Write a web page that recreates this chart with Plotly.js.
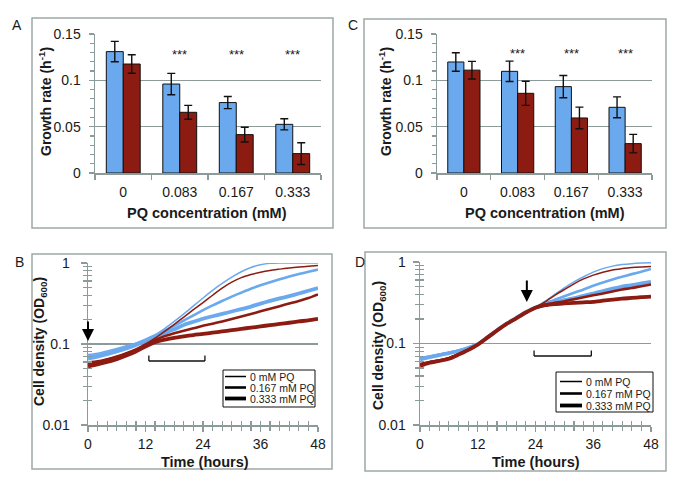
<!DOCTYPE html>
<html><head><meta charset="utf-8">
<script src="https://cdn.plot.ly/plotly-3.0.1.min.js"></script>
<style>html,body{margin:0;padding:0;background:#fff}</style>
</head><body><div id="chart" style="width:685px;height:489px"></div>
<script>
// ---------- DATA ----------
const categories = ['0', '0.083', '0.167', '0.333'];
const A_blue = [0.131, 0.096, 0.076, 0.0525];
const A_blueErr = [0.011, 0.0115, 0.0065, 0.006];
const A_red = [0.1176, 0.0655, 0.0414, 0.0209];
const A_redErr = [0.010, 0.0075, 0.008, 0.0117];
const C_blue = [0.1198, 0.1097, 0.0932, 0.0709];
const C_blueErr = [0.010, 0.011, 0.012, 0.0113];
const C_red = [0.111, 0.086, 0.0594, 0.0317];
const C_redErr = [0.0095, 0.013, 0.0117, 0.010];
const starCats = ['0.083', '0.167', '0.333'];
const starLabel = '***';
const A_starLevel = 0.128;
const C_starLevel = 0.129;

const hours = [0,2,4,6,8,10,12,14,16,18,20,22,24,26,28,30,32,34,36,38,40,42,44,46,48];
// Panel B
const B_blue0   = [0.074,0.077,0.082,0.088,0.095,0.103,0.115,0.13,0.155,0.19,0.235,0.295,0.37,0.46,0.56,0.67,0.78,0.88,0.95,0.99,1.0,1.0,1.0,1.0,1.0];
const B_blue167 = [0.07,0.073,0.078,0.084,0.091,0.1,0.112,0.127,0.146,0.168,0.195,0.225,0.262,0.3,0.34,0.385,0.43,0.48,0.53,0.58,0.63,0.68,0.73,0.78,0.83];
const B_blue333 = [0.066,0.07,0.075,0.081,0.088,0.097,0.108,0.122,0.137,0.152,0.172,0.188,0.205,0.22,0.235,0.252,0.27,0.29,0.315,0.34,0.365,0.39,0.42,0.455,0.49];
const B_red0    = [0.06,0.062,0.066,0.071,0.078,0.087,0.1,0.118,0.143,0.175,0.215,0.265,0.325,0.4,0.49,0.58,0.66,0.72,0.77,0.81,0.84,0.87,0.89,0.91,0.93];
const B_red167  = [0.057,0.06,0.064,0.069,0.076,0.085,0.097,0.112,0.125,0.136,0.146,0.156,0.168,0.178,0.19,0.203,0.218,0.235,0.253,0.272,0.293,0.316,0.34,0.37,0.41];
const B_red333  = [0.053,0.056,0.06,0.065,0.072,0.081,0.093,0.105,0.113,0.119,0.124,0.129,0.133,0.138,0.143,0.148,0.154,0.159,0.165,0.171,0.177,0.183,0.19,0.196,0.205];
// Panel D
const D_blue0   = [0.067,0.07,0.074,0.078,0.083,0.09,0.1,0.121,0.147,0.177,0.208,0.244,0.28,0.33,0.4,0.48,0.57,0.66,0.75,0.83,0.89,0.93,0.955,0.97,0.98];
const D_blue167 = [0.066,0.069,0.073,0.077,0.082,0.089,0.099,0.12,0.146,0.176,0.207,0.243,0.278,0.31,0.345,0.38,0.42,0.46,0.51,0.56,0.61,0.66,0.71,0.76,0.82];
const D_blue333 = [0.064,0.068,0.072,0.076,0.081,0.088,0.098,0.119,0.145,0.175,0.206,0.242,0.276,0.3,0.32,0.34,0.36,0.385,0.41,0.44,0.47,0.5,0.52,0.545,0.57];
const D_red0    = [0.057,0.06,0.063,0.067,0.075,0.085,0.099,0.12,0.146,0.176,0.206,0.243,0.279,0.325,0.39,0.46,0.54,0.62,0.69,0.75,0.8,0.83,0.855,0.87,0.88];
const D_red167  = [0.055,0.059,0.062,0.066,0.074,0.084,0.098,0.119,0.145,0.175,0.205,0.241,0.277,0.3,0.315,0.33,0.35,0.37,0.39,0.41,0.435,0.46,0.48,0.505,0.53];
const D_red333  = [0.053,0.058,0.061,0.065,0.073,0.083,0.097,0.118,0.144,0.174,0.204,0.24,0.275,0.295,0.305,0.31,0.315,0.32,0.325,0.335,0.345,0.355,0.362,0.37,0.375];

const legendLabels = ['0 mM PQ', '0.167 mM PQ', '0.333 mM PQ'];
const B_arrowHour = 0, D_arrowHour = 22.2;
const B_bracket = [12.7, 24.4], D_bracket = [23.7, 35.6];

// ---------- STYLE ----------
const W = 685, H = 489;
const px = v => v / W, py = v => 1 - v / H;
const BLUE = '#6aa9ee', RED = '#8c1c12';
const AX = '#8c9a9a', BOX = '#9ea8a8';
const FONT = '"Liberation Sans", Arial, sans-serif';
const TXT = '#1a1a1a';
const widths = [1.5, 2.6, 3.8];

const traces = [];
function bars(xa, ya, blue, bErr, red, rErr) {
  traces.push({type:'bar', x:categories, y:blue, xaxis:xa, yaxis:ya, marker:{color:BLUE, line:{color:'#111', width:1}},
    error_y:{type:'data', array:bErr, color:'#111', thickness:1.4, width:4}, showlegend:false, hoverinfo:'skip'});
  traces.push({type:'bar', x:categories, y:red, xaxis:xa, yaxis:ya, marker:{color:RED, line:{color:'#111', width:1}},
    error_y:{type:'data', array:rErr, color:'#111', thickness:1.4, width:4}, showlegend:false, hoverinfo:'skip'});
}
bars('x', 'y', A_blue, A_blueErr, A_red, A_redErr);
bars('x2', 'y2', C_blue, C_blueErr, C_red, C_redErr);

function lines(xa, ya, series, color) {
  series.forEach((s, i) => traces.push({type:'scatter', mode:'lines', x:hours, y:s, xaxis:xa, yaxis:ya,
    line:{color:color, width:widths[i], shape:'spline', smoothing:0.6}, showlegend:false, hoverinfo:'skip'}));
}
lines('x3', 'y3', [B_blue0, B_blue167, B_blue333], BLUE);
lines('x3', 'y3', [B_red0, B_red167, B_red333], RED);
lines('x4', 'y4', [D_blue0, D_blue167, D_blue333], BLUE);
lines('x4', 'y4', [D_red0, D_red167, D_red333], RED);
// empty traces to create overlay axes (inner half of cross ticks)
traces.push({type:'scatter', x:[], y:[], xaxis:'x5', yaxis:'y5', showlegend:false, hoverinfo:'skip'});
traces.push({type:'scatter', x:[], y:[], xaxis:'x6', yaxis:'y6', showlegend:false, hoverinfo:'skip'});

const tickfont = {family:FONT, size:14, color:TXT};
function barX(dom, anchor) {
  return {domain:dom, anchor:anchor, type:'category', tickson:'boundaries', ticks:'outside', ticklen:5, tickcolor:AX, tickwidth:1.3,
    showline:true, linecolor:AX, linewidth:1.5, showgrid:false, zeroline:false, tickfont:tickfont, ticklabelstandoff:6, fixedrange:true};
}
function barY(dom, anchor) {
  return {domain:dom, anchor:anchor, range:[0, 0.15], dtick:0.05, ticks:'outside', ticklen:5, tickcolor:AX, tickwidth:1.3,
    minor:{ticks:'outside', dtick:0.01, ticklen:4, tickcolor:AX, tickwidth:1.2},
    showgrid:true, gridcolor:AX, gridwidth:1.5, showline:true, linecolor:AX, linewidth:1.5, zeroline:false,
    tickfont:tickfont, ticklabelstandoff:5, fixedrange:true};
}
function timeX(dom, anchor, standoff) {
  return {domain:dom, anchor:anchor, range:[0, 48], dtick:12, ticks:'outside', ticklen:5, tickcolor:AX, tickwidth:1.3,
    minor:{ticks:'outside', dtick:2, ticklen:4, tickcolor:AX, tickwidth:1.2},
    showline:true, linecolor:AX, linewidth:1.5, showgrid:false, zeroline:false, tickfont:tickfont, ticklabelstandoff:standoff, fixedrange:true};
}
function logY(dom, anchor, standoff) {
  return {domain:dom, anchor:anchor, type:'log', range:[-2, 0], dtick:1, ticks:'outside', ticklen:6, tickcolor:AX, tickwidth:1.3,
    minor:{ticks:'outside', dtick:'D1', ticklen:4, tickcolor:AX, tickwidth:1.2},
    showgrid:true, gridcolor:AX, gridwidth:1.5, showline:true, linecolor:AX, linewidth:1.5, zeroline:false,
    tickfont:tickfont, ticklabelstandoff:standoff, fixedrange:true};
}
function overX(over, anchor) {
  return {overlaying:over, anchor:anchor, range:[0, 48], dtick:12, ticks:'inside', ticklen:4, tickcolor:AX, tickwidth:1.3,
    minor:{ticks:'inside', dtick:2, ticklen:4, tickcolor:AX, tickwidth:1.2},
    showticklabels:false, showline:false, showgrid:false, zeroline:false, fixedrange:true};
}
function overY(over, anchor) {
  return {overlaying:over, anchor:anchor, side:'left', type:'log', range:[-2, 0], dtick:1, ticks:'inside', ticklen:4, tickcolor:AX, tickwidth:1.3,
    minor:{ticks:'inside', dtick:'D1', ticklen:4, tickcolor:AX, tickwidth:1.2},
    showticklabels:false, showline:false, showgrid:false, zeroline:false, fixedrange:true};
}

const annotations = [];
const shapes = [];
function ann(x, y, text, size, extra) {
  annotations.push(Object.assign({xref:'paper', yref:'paper', x:px(x), y:py(y), text:text, showarrow:false,
    font:{family:FONT, size:size, color:TXT}, xanchor:'center', yanchor:'middle'}, extra || {}));
}
// panel labels
ann(17, 25, 'A', 14); ann(353, 25, 'C', 14); ann(19, 262, 'B', 14); ann(360, 262, 'D', 14);
// axis titles
ann(45, 102, '<b>Growth rate (h<sup>-1</sup>)</b>', 14, {textangle:-90});
ann(385, 102, '<b>Growth rate (h<sup>-1</sup>)</b>', 14, {textangle:-90});
ann(207, 213, '<b>PQ concentration (mM)</b>', 14.5);
ann(545, 213, '<b>PQ concentration (mM)</b>', 14.5);
ann(40, 342, '<b>Cell density (OD<sub>600</sub>)</b>', 14, {textangle:-90});
ann(379, 345, '<b>Cell density (OD<sub>600</sub>)</b>', 14, {textangle:-90});
ann(205, 462, '<b>Time (hours)</b>', 14.5);
ann(536, 462, '<b>Time (hours)</b>', 14.5);
// stars (category axes: position by category index)
starCats.forEach(c => {
  const i = categories.indexOf(c);
  annotations.push({xref:'x', yref:'y', x:i, y:A_starLevel, text:starLabel, showarrow:false, font:{family:FONT, size:13, color:TXT}});
  annotations.push({xref:'x2', yref:'y2', x:i, y:C_starLevel, text:starLabel, showarrow:false, font:{family:FONT, size:13, color:TXT}});
});
// arrows
annotations.push({xref:'x3', yref:'paper', x:B_arrowHour, y:py(341), ax:0, ay:-28, text:' ', showarrow:true,
  arrowhead:2, arrowsize:1.2, arrowwidth:2, arrowcolor:'#000'});
annotations.push({xref:'x4', yref:'paper', x:D_arrowHour, y:py(302), ax:0, ay:-30, text:' ', showarrow:true,
  arrowhead:2, arrowsize:1.2, arrowwidth:2, arrowcolor:'#000'});
// brackets
function bracket(xref, r, yb, yt) {
  const l = {color:'#111', width:1.3};
  shapes.push({type:'line', xref:xref, yref:'paper', x0:r[0], x1:r[1], y0:py(yb), y1:py(yb), line:l});
  shapes.push({type:'line', xref:xref, yref:'paper', x0:r[0], x1:r[0], y0:py(yb), y1:py(yt), line:l});
  shapes.push({type:'line', xref:xref, yref:'paper', x0:r[1], x1:r[1], y0:py(yb), y1:py(yt), line:l});
}
bracket('x3', B_bracket, 361, 355.5);
bracket('x4', D_bracket, 356, 350.5);
// panel boxes
[[32,18,333,228],[364,19,666,228],[32,254,332,469],[365,252,666,471]].forEach(b => {
  shapes.push({type:'rect', xref:'paper', yref:'paper', x0:px(b[0]), x1:px(b[2]), y0:py(b[3]), y1:py(b[1]),
    line:{color:BOX, width:1.5}, fillcolor:'rgba(0,0,0,0)', layer:'below'});
});
// legends (manual, compact)
function legend(box, rowsY, sx0, sx1, tx) {
  shapes.push({type:'rect', xref:'paper', yref:'paper', x0:px(box[0]), x1:px(box[2]), y0:py(box[3]), y1:py(box[1]),
    line:{color:'#111', width:1}, fillcolor:'#fff'});
  legendLabels.forEach((lab, i) => {
    shapes.push({type:'line', xref:'paper', yref:'paper', x0:px(sx0), x1:px(sx1), y0:py(rowsY[i]), y1:py(rowsY[i]),
      line:{color:'#000', width:widths[i]}});
    ann(tx, rowsY[i], lab, 10.5, {xanchor:'left'});
  });
}
legend([223,370,315,407], [376.5,387.5,398.5], 225, 246, 248);
legend([556,372,653,412], [381.5,393.5,405.5], 560, 582, 584);

const layout = {
  width:W, height:H, autosize:false, margin:{l:0, r:0, t:0, b:0},
  paper_bgcolor:'#fff', plot_bgcolor:'rgba(0,0,0,0)', showlegend:false,
  barmode:'group', bargap:0.4, bargroupgap:0,
  font:{family:FONT, color:TXT},
  xaxis: barX([px(95), px(321)], 'y'),
  yaxis: barY([py(173), py(34)], 'x'),
  xaxis2: barX([px(437), px(652)], 'y2'),
  yaxis2: barY([py(173), py(34)], 'x2'),
  xaxis3: timeX([px(88), px(318)], 'y3', 1),
  yaxis3: logY([py(425), py(263)], 'x3', 8),
  xaxis4: timeX([px(420), px(651)], 'y4', 1),
  yaxis4: logY([py(425), py(262)], 'x4', 4),
  xaxis5: overX('x3', 'y3'),
  yaxis5: overY('y3', 'x3'),
  xaxis6: overX('x4', 'y4'),
  yaxis6: overY('y4', 'x4'),
  annotations: annotations,
  shapes: shapes
};
Plotly.newPlot('chart', traces, layout, {staticPlot:true, displayModeBar:false});
</script></body></html>
